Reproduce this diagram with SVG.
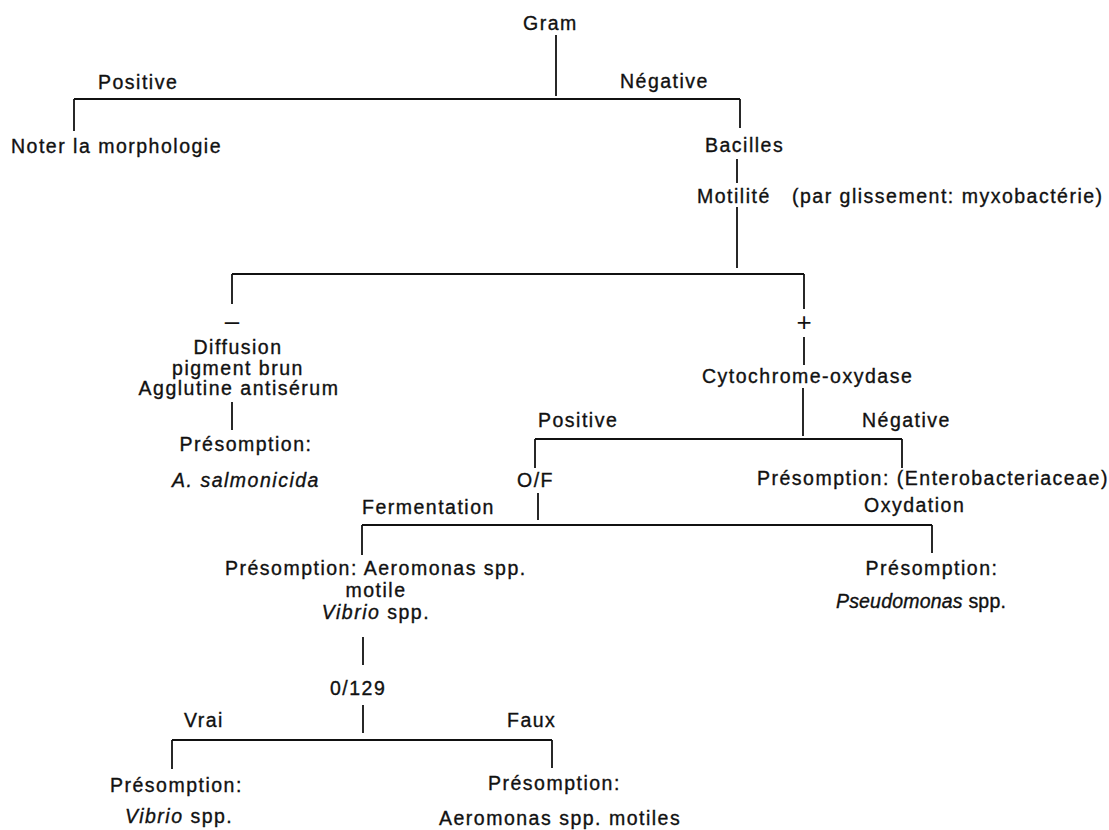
<svg xmlns="http://www.w3.org/2000/svg" width="1109" height="830" viewBox="0 0 1109 830">
<style>
text{font-family:"Liberation Sans",Arial,sans-serif;font-size:19.5px;letter-spacing:1.5px;fill:#111;stroke:#111;stroke-width:0.35}
.i{font-style:italic}
.c{text-anchor:middle}
.sign{font-size:26px;letter-spacing:0;stroke-width:0}
.tight{letter-spacing:0.2px}
#connectors line{stroke:#111;stroke-width:1.8;fill:none}
</style>
<rect width="1109" height="830" fill="#fff"/>
<g id="connectors">
<line x1="556" y1="35" x2="556" y2="96"/>
<line x1="74" y1="99" x2="740" y2="99"/>
<line x1="74" y1="99" x2="74" y2="131"/>
<line x1="740" y1="99" x2="740" y2="128"/>
<line x1="737" y1="159" x2="737" y2="183"/>
<line x1="737" y1="207" x2="737" y2="268"/>
<line x1="232" y1="274" x2="804" y2="274"/>
<line x1="232" y1="274" x2="232" y2="304"/>
<line x1="804" y1="274" x2="804" y2="309"/>
<line x1="804" y1="337" x2="804" y2="365"/>
<line x1="232" y1="402" x2="232" y2="430"/>
<line x1="803" y1="388" x2="803" y2="436"/>
<line x1="535" y1="439" x2="902" y2="439"/>
<line x1="535" y1="439" x2="535" y2="468"/>
<line x1="902" y1="439" x2="902" y2="468"/>
<line x1="538" y1="493" x2="538" y2="520"/>
<line x1="362" y1="525" x2="932" y2="525"/>
<line x1="362" y1="525" x2="362" y2="555"/>
<line x1="932" y1="525" x2="932" y2="553"/>
<line x1="363" y1="637" x2="363" y2="665"/>
<line x1="363" y1="705" x2="363" y2="733"/>
<line x1="172" y1="740" x2="552" y2="740"/>
<line x1="172" y1="740" x2="172" y2="769"/>
<line x1="552" y1="740" x2="552" y2="768"/>
</g>
<g id="gram"><text x="523" y="30">Gram</text></g>
<g id="gram-pos-label"><text x="98" y="89">Positive</text></g>
<g id="gram-neg-label"><text x="620" y="88">Négative</text></g>
<g id="noter"><text x="11" y="153">Noter la morphologie</text></g>
<g id="bacilles"><text x="705" y="152">Bacilles</text></g>
<g id="motilite"><text x="697" y="203">Motilité</text><text x="792" y="203">(par glissement: myxobactérie)</text></g>
<g id="minus"><text class="c sign" x="232" y="330">–</text></g>
<g id="plus"><text class="c sign" x="804" y="331">+</text></g>
<g id="diffusion">
<text class="c" x="238" y="354">Diffusion</text>
<text class="c" x="238" y="375">pigment brun</text>
<text class="c" x="239" y="395">Agglutine antisérum</text>
</g>
<g id="salmonicida">
<text class="c" x="246" y="451">Présomption:</text>
<text class="c" x="246" y="487"><tspan class="i">A. salmonicida</tspan></text>
</g>
<g id="cytochrome"><text x="702" y="383">Cytochrome-oxydase</text></g>
<g id="cyto-pos-label"><text x="538" y="427">Positive</text></g>
<g id="cyto-neg-label"><text x="862" y="427">Négative</text></g>
<g id="of"><text x="517" y="487">O/F</text></g>
<g id="entero"><text x="757" y="485">Présomption: (Enterobacteriaceae)</text></g>
<g id="ferm-label"><text x="362" y="514">Fermentation</text></g>
<g id="oxy-label"><text x="864" y="512">Oxydation</text></g>
<g id="aeromonas-vibrio">
<text x="225" y="575">Présomption: Aeromonas spp.</text>
<text class="c" x="376" y="597">motile</text>
<text class="c" x="376" y="619"><tspan class="i">Vibrio</tspan> spp.</text>
</g>
<g id="pseudomonas">
<text class="c" x="932" y="575">Présomption:</text>
<text class="c tight" x="921" y="608"><tspan class="i">Pseudomonas</tspan> spp.</text>
</g>
<g id="o129"><text x="330" y="695">0/129</text></g>
<g id="vrai-label"><text x="184" y="727">Vrai</text></g>
<g id="faux-label"><text x="507" y="727">Faux</text></g>
<g id="vibrio">
<text x="110" y="792">Présomption:</text>
<text x="125" y="823"><tspan class="i">Vibrio</tspan> spp.</text>
</g>
<g id="aeromonas-motiles">
<text x="488" y="790">Présomption:</text>
<text x="439" y="825">Aeromonas spp. motiles</text>
</g>
</svg>
